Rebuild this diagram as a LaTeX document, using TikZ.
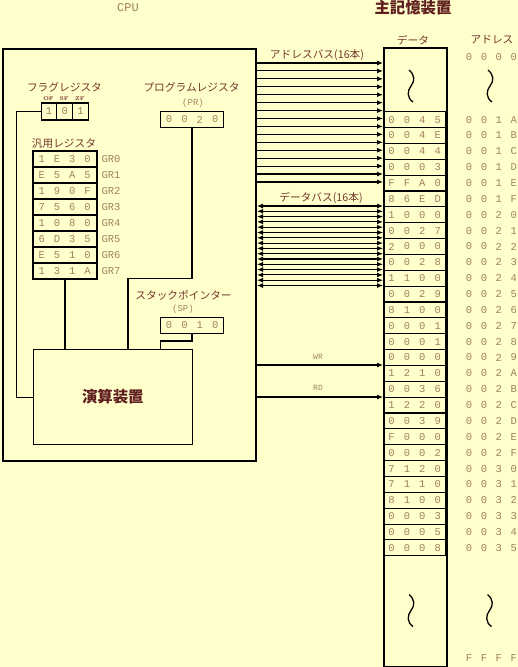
\documentclass[tikz,border=0pt]{standalone}
\usepackage{fontspec}
\usetikzlibrary{arrows.meta}
\newfontfamily\jpfont{Noto Sans CJK JP}
\newfontfamily\hexfont{Liberation Mono}
\definecolor{memBg}{RGB}{255,255,204}
\definecolor{memT}{RGB}{115,55,45}
\definecolor{memD}{RGB}{95,30,30}
\definecolor{memH}{RGB}{160,128,98}
\newcommand\memwave[2]{\draw[wave,shift={(#1,#2)}] (-2,-16) .. controls (4,-11) and (4,-5) .. (0,0) .. controls (-4,5) and (-4,12) .. (2,16);}

\begin{document}
\begin{tikzpicture}[x=1pt,y=-1pt,
  jlab/.style={font=\jpfont\fontsize{10.7}{11}\selectfont,text=memT,inner sep=0},
  jbig/.style={font=\jpfont\bfseries\fontsize{15.4}{16}\selectfont,text=memD,inner sep=0},
  hexd/.style={font=\hexfont\fontsize{10.5}{11}\selectfont,text=memH,inner sep=0},
  flagtag/.style={font=\bfseries\fontsize{5.5}{6}\selectfont,text=memT,inner sep=0},
  unit/.style={draw,line width=2pt,inner sep=0,anchor=north west},
  reg/.style={draw,line width=1.1pt,inner sep=0},
  wire/.style={line width=1.1pt},
  bus/.style={line width=1.1pt,-{Latex[length=6pt,width=5pt]}},
  bibus/.style={line width=1.1pt,{Latex[length=6pt,width=5pt]}-{Latex[length=6pt,width=5pt]}},
  wave/.style={line width=1.3pt}]
\fill[memBg] (0,0) rectangle (518,667);
\useasboundingbox (0,0) rectangle (518,667);
% titles
\node[hexd,font=\hexfont\fontsize{12}{12}\selectfont] (cpulab) at (128,8) {CPU};
\node[jbig] (memlab) at (413,8) {主記憶装置};
\node[jlab] (datlab) at (413,40) {データ};
\node[jlab] (adrlab) at (492,40) {アドレス};
% CPU and memory
\node[unit,minimum width=253,minimum height=412.5] (cpu) at (2,47.5) {};
\node[unit,minimum width=62.5,minimum height=619] (mem) at (383,47) {};
% flag register
\node[jlab] (flaglab) at (64.5,87.5) {フラグレジスタ};
\foreach \v/\t [count=\k from 0] in {1/OF,0/SF,1/ZF} {
  \node[reg,minimum width=15.7,minimum height=17] (f\k) at (49+15.7*\k,111.5) {};
  \node[hexd] (fv\k) at (f\k) {\v};
  \node[flagtag] (ft\k) at (48.5+15.7*\k,99) {\t};
}
% program register
\node[jlab] (prlab) at (191.5,87.5) {プログラムレジスタ};
\node[hexd,font=\hexfont\fontsize{9}{9}\selectfont] (prsub) at (193,103) {(PR)};
\node[reg,minimum width=63,minimum height=15.6] (pr) at (192,119.5) {};
\foreach \ch [count=\k from 0] in {0,0,2,0}
  \node[hexd] (prd\k) at (169+15.4*\k,119.5) {\ch};
% general registers
\node[jlab] (grlab) at (64,143) {汎用レジスタ};
\foreach \a/\b/\c/\d [count=\i from 0] in {1/E/3/0,E/5/A/5,1/9/0/F,7/5/6/0,1/0/8/0,6/D/3/5,E/5/1/0,1/3/1/A} {
  \node[reg,minimum width=64,minimum height=16] (g\i) at (65,159+16*\i) {};
  \foreach \ch [count=\k from 0] in {\a,\b,\c,\d}
    \node[hexd] (gd\i-\k) at (41.7+15.3*\k,159+16*\i) {\ch};
  \node[hexd] (gn\i) at (111,159+16*\i) {GR\i};
}
% stack pointer
\node[jlab] (splab) at (183.5,295) {スタックポインター};
\node[hexd,font=\hexfont\fontsize{9}{9}\selectfont] (spsub) at (183,309.5) {(SP)};
\node[reg,minimum width=63,minimum height=15.6] (sp) at (192,325.5) {};
\foreach \ch [count=\k from 0] in {0,0,1,0}
  \node[hexd] (spd\k) at (169+15.4*\k,325.5) {\ch};
% ALU
\node[reg,anchor=north west,minimum width=158.5,minimum height=95,font=\jpfont\bfseries\fontsize{15.4}{16}\selectfont,text=memD] (alu) at (33,349) {演算装置};
% wires into the ALU
\coordinate (prj) at (128,278.5);
\coordinate (spj) at (160.5,341);
\draw[wire] (f0.west) -- ++(-24,0) |- (alu.west);
\draw[wire] (pr.south) |- (prj) -- (prj |- alu.north);
\draw[wire] (g7.south) -- (g7.south |- alu.north);
\draw[wire] (sp.south) |- (spj) -- (spj |- alu.north);
% memory cells
\foreach \a/\b/\c/\d/\e/\f [count=\i from 0] in {
  0/0/4/5/1/A, 0/0/4/E/1/B, 0/0/4/4/1/C, 0/0/0/3/1/D, F/F/A/0/1/E, 8/6/E/D/1/F,
  1/0/0/0/2/0, 0/0/2/7/2/1, 2/0/0/0/2/2, 0/0/2/8/2/3, 1/1/0/0/2/4, 0/0/2/9/2/5,
  8/1/0/0/2/6, 0/0/0/1/2/7, 0/0/0/1/2/8, 0/0/0/0/2/9, 1/2/1/0/2/A, 0/0/3/6/2/B,
  1/2/2/0/2/C, 0/0/3/9/2/D, F/0/0/0/2/E, 0/0/0/2/2/F, 7/1/2/0/3/0, 7/1/1/0/3/1,
  8/1/0/0/3/2, 0/0/0/3/3/3, 0/0/0/5/3/4, 0/0/0/8/3/5} {
  \pgfmathsetmacro\yy{111.7+15.86*(\i+0.5)}
  \node[reg,minimum width=62.5,minimum height=15.86] (m\i) at (414.5,\yy) {};
  \foreach \ch [count=\k from 0] in {\a,\b,\c,\d}
    \node[hexd] (md\i-\k) at (391.5+15.4*\k,\yy) {\ch};
  \foreach \ch [count=\k from 0] in {0,0,\e,\f}
    \node[hexd] (ma\i-\k) at (469+14.9*\k,\yy) {\ch};
}
\foreach \ch [count=\k from 0] in {0,0,0,0}
  \node[hexd] (atop\k) at (469+14.9*\k,57) {\ch};
\foreach \ch [count=\k from 0] in {F,F,F,F}
  \node[hexd] (abot\k) at (469+14.9*\k,658) {\ch};
\memwave{411}{86}
\memwave{490}{86}
\memwave{411}{610.5}
\memwave{489.5}{610.5}
% buses
\node[jlab] (ablab) at (317,55) {アドレスバス(16本)};
\foreach \k in {0,...,15} {
  \pgfmathsetmacro\yb{63+7.93*\k}
  \coordinate (ab\k) at (0,\yb);
  \draw[bus] (cpu.east |- ab\k) -- (mem.west |- ab\k);
}
\node[jlab] (dblab) at (321,198) {データバス(16本)};
\foreach \k in {0,...,15} {
  \pgfmathsetmacro\yb{206+5.3*\k}
  \coordinate (db\k) at (0,\yb);
  \draw[bibus] (cpu.east |- db\k) -- (mem.west |- db\k);
}
\node[hexd,font=\hexfont\fontsize{8}{8}\selectfont] (wrlab) at (318,357) {WR};
\node[hexd,font=\hexfont\fontsize{8}{8}\selectfont] (rdlab) at (318,388) {RD};
\coordinate (wr) at (0,365);
\coordinate (rd) at (0,397);
\draw[bus] (cpu.east |- wr) -- (mem.west |- wr);
\draw[bus] (cpu.east |- rd) -- (mem.west |- rd);
\end{tikzpicture}
\end{document}
